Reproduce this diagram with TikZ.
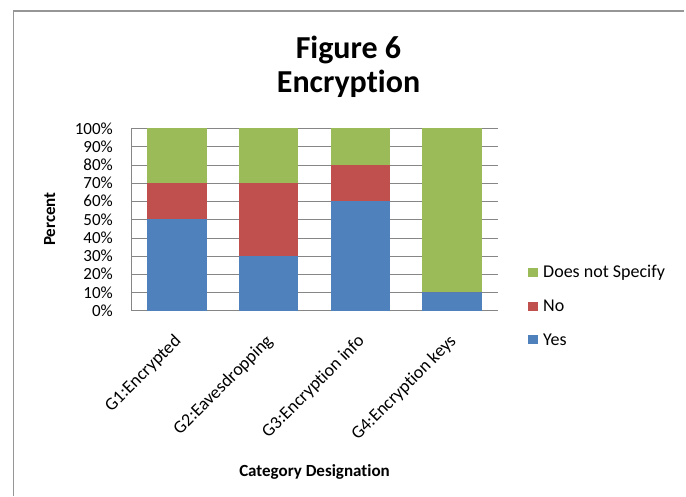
\documentclass[tikz,border=0pt]{standalone}
\usepackage{fontspec}
\setmainfont{Carlito}[Ligatures=NoCommon]
\definecolor{yesblue}{RGB}{79,129,189}
\definecolor{nored}{RGB}{192,80,77}
\definecolor{dnsgreen}{RGB}{155,187,89}
\definecolor{gridgray}{RGB}{134,134,134}
\definecolor{framegray}{RGB}{150,150,150}

\begin{document}
\begin{tikzpicture}[x=1pt, y=1pt,
    lbl/.style={font=\fontsize{17}{20}\selectfont, inner sep=0},
    biglbl/.style={font=\fontsize{18}{21}\selectfont, inner sep=0},
    axtitle/.style={font=\bfseries\fontsize{17}{20}\selectfont, inner sep=0},
    charttitle/.style={font=\bfseries\fontsize{32}{38}\selectfont, inner sep=0, anchor=base}]
\useasboundingbox (0,0) rectangle (686,496);
% chart frame (top and left only)
\coordinate (fbl) at (13.5,0);
\coordinate (ftl) at (13.5,485);
\coordinate (ftr) at (684,485);
\draw[framegray, line width=1.5pt] (fbl)--(ftl)--(ftr);

\node[charttitle] (title1) at (348.5,437){Figure 6};
\node[charttitle] (title2) at (348.5,403){Encryption};

% gridlines and value labels
\foreach \p in {0,10,...,100}{
    \draw[gridgray] (131,185.3+1.824*\p)--(498,185.3+1.824*\p);
    \node[lbl, anchor=east] (y\p) at (113,185.3+1.824*\p){\p\%};
}
\draw[gridgray] (131,185.3)--(131,367.7);

% stacked bars: yes / no / does not specify
\foreach \i/\name/\yes/\no in {1/G1:Encrypted/50/20, 2/G2:Eavesdropping/30/40,
        3/G3:Encryption info/60/20, 4/G4:Encryption keys/10/0}{
    \pgfmathsetmacro{\cx}{131+91.75*(\i-0.5)}
    \pgfmathsetmacro{\ya}{185.3+1.824*\yes}
    \pgfmathsetmacro{\yb}{185.3+1.824*(\yes+\no)}
    \fill[yesblue] (\cx-29.65,185.3) rectangle (\cx+29.65,\ya);
    \fill[nored] (\cx-29.65,\ya) rectangle (\cx+29.65,\yb);
    \fill[dnsgreen] (\cx-29.65,\yb) rectangle (\cx+29.65,367.7);
    \node[biglbl, rotate=45, anchor=north east] (cat\i) at (\cx-4,163){\name};
}

% legend
\foreach \k/\col/\txt/\yy in {1/dnsgreen/Does not Specify/223.5, 2/nored/No/189.5, 3/yesblue/Yes/156}{
    \fill[\col] (528,\yy-4.5) rectangle (537.5,\yy+4.5);
    \node[biglbl, anchor=base west] (leg\k) at (543,\yy-5.5){\txt};
}

\node[axtitle, rotate=90, anchor=base] (ylab) at (55,277){Percent};
\node[axtitle, anchor=base] (xlab) at (314.5,20){Category Designation};
\end{tikzpicture}
\end{document}
